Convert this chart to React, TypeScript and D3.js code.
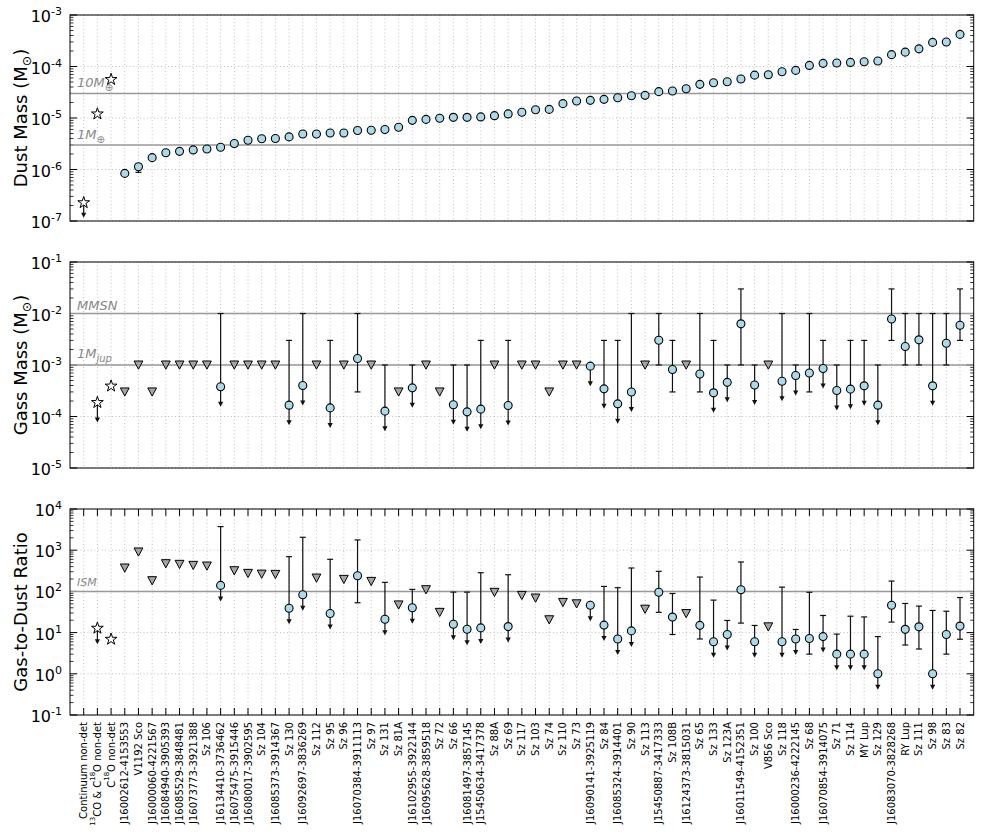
import * as d3 from "d3";

// source names, in plotting order
const sources = [
  "Continuum non-det", "13CO & C18O non-det", "C18O non-det",
  "J16002612-4153553", "V1192 Sco", "J16000060-4221567", "J16084940-3905393",
  "J16085529-3848481", "J16073773-3921388", "Sz 106", "J16134410-3736462",
  "J16075475-3915446", "J16080017-3902595", "Sz 104", "J16085373-3914367",
  "Sz 130", "J16092697-3836269", "Sz 112", "Sz 95", "Sz 96", "J16070384-3911113",
  "Sz 97", "Sz 131", "Sz 81A", "J16102955-3922144", "J16095628-3859518", "Sz 72",
  "Sz 66", "J16081497-3857145", "J15450634-3417378", "Sz 88A", "Sz 69", "Sz 117",
  "Sz 103", "Sz 74", "Sz 110", "Sz 73", "J16090141-3925119", "Sz 84",
  "J16085324-3914401", "Sz 90", "Sz 113", "J15450887-3417333", "Sz 108B",
  "J16124373-3815031", "Sz 65", "Sz 133", "Sz 123A", "J16011549-4152351", "Sz 100",
  "V856 Sco", "Sz 118", "J16000236-4222145", "Sz 68", "J16070854-3914075", "Sz 71",
  "Sz 114", "MY Lup", "Sz 129", "J16083070-3828268", "RY Lup", "Sz 111", "Sz 98",
  "Sz 83", "Sz 82",
];

// s = stacked non-detection (star), v = upper limit (triangle), o = measured
const markerKind = [
  "-", "s", "s", "v", "v", "v", "v", "v", "v", "v", "o", "v", "v", "v", "v", "o",
  "o", "v", "o", "v", "o", "v", "o", "v", "o", "v", "v", "o", "o", "o", "v", "o",
  "v", "v", "v", "v", "v", "o", "o", "o", "o", "v", "o", "o", "v", "o", "o", "o",
  "o", "o", "v", "o", "o", "o", "o", "o", "o", "o", "o", "o", "o", "o", "o", "o", "o",
];

// arrow pointing down (value is an upper limit)
const gasLimit = [
  0, 1, 0, 0, 0, 0, 0, 0, 0, 0, 1, 0, 0, 0, 0, 1, 1, 0, 1, 0, 0, 0, 1, 0, 1, 0, 0,
  1, 1, 1, 0, 1, 0, 0, 0, 0, 0, 1, 1, 1, 1, 0, 0, 0, 0, 0, 1, 1, 0, 1, 0, 1, 1, 0,
  1, 1, 1, 1, 1, 0, 0, 0, 1, 0, 0,
];

// dust mass (Msun)
const dustMass = [
  2.27e-7, 1.2e-5, 5.6e-5, 8.4e-7, 1.13e-6, 1.7e-6, 2.12e-6, 2.25e-6, 2.4e-6, 2.5e-6,
  2.7e-6, 3.2e-6, 3.7e-6, 3.95e-6, 4.0e-6, 4.3e-6, 4.9e-6, 4.9e-6, 5.1e-6, 5.1e-6,
  5.7e-6, 5.8e-6, 6.0e-6, 6.6e-6, 9.0e-6, 9.4e-6, 9.9e-6, 1.03e-5, 1.03e-5, 1.05e-5,
  1.11e-5, 1.2e-5, 1.29e-5, 1.45e-5, 1.47e-5, 1.9e-5, 2.14e-5, 2.2e-5, 2.3e-5,
  2.48e-5, 2.7e-5, 2.75e-5, 3.25e-5, 3.35e-5, 3.7e-5, 4.5e-5, 4.85e-5, 5.07e-5,
  5.7e-5, 6.8e-5, 6.9e-5, 7.9e-5, 8.4e-5, 1.05e-4, 1.15e-4, 1.17e-4, 1.2e-4,
  1.24e-4, 1.28e-4, 1.7e-4, 1.9e-4, 2.2e-4, 2.94e-4, 3.0e-4, 4.2e-4,
];
const dustErrIdx = [4, 11];
const dustErrLow = [0.88e-6, 2.8e-6];
const dustErrHigh = [1.3e-6, 3.5e-6];

// gas mass (Msun)
const gasMass = [
  null, 1.87e-4, 3.9e-4, 3e-4, 1e-3, 3e-4, 1e-3, 1e-3, 1e-3, 1e-3, 3.77e-4, 1e-3,
  1e-3, 1e-3, 1e-3, 1.66e-4, 4.0e-4, 1e-3, 1.47e-4, 1e-3, 1.34e-3, 1e-3, 1.27e-4,
  3e-4, 3.6e-4, 1e-3, 3e-4, 1.69e-4, 1.23e-4, 1.39e-4, 1e-3, 1.64e-4, 1e-3, 1e-3,
  3e-4, 1e-3, 1e-3, 9.5e-4, 3.44e-4, 1.76e-4, 3.0e-4, 1e-3, 3.03e-3, 8.2e-4, 1e-3,
  6.7e-4, 2.88e-4, 4.6e-4, 6.3e-3, 4.1e-4, 1e-3, 4.85e-4, 6.25e-4, 7.0e-4, 8.55e-4,
  3.2e-4, 3.4e-4, 3.94e-4, 1.66e-4, 7.8e-3, 2.29e-3, 3.08e-3, 3.94e-4, 2.65e-3, 5.9e-3,
];
const gasHigh = [
  null, null, null, null, null, null, null, null, null, null, 1e-2, null, null, null,
  null, 3e-3, 1e-2, null, 3e-3, null, 1e-2, null, 1e-3, null, 1e-3, null, null, 1e-3,
  1e-3, 3e-3, null, 3e-3, null, null, null, null, null, null, 3e-3, 3e-3, 1e-2, null,
  1e-2, 3e-3, null, 1e-2, 3e-3, 1e-3, 3e-2, 1e-3, null, 1e-2, 1e-3, 1e-2, 3e-3, 1e-3,
  3e-3, 3e-3, 1e-3, 3e-2, 1e-2, 1e-2, 1e-2, 1e-2, 3e-2,
];
const gasLow = [
  null, null, null, null, null, null, null, null, null, null, null, null, null, null,
  null, null, null, null, null, null, 3e-4, null, null, null, null, null, null, null,
  null, null, null, null, null, null, null, null, null, null, null, null, null, null,
  1e-3, 3e-4, null, 3e-4, null, null, 1e-3, null, null, null, null, 3e-4, null, null,
  null, null, null, 3e-3, 1e-3, 1e-3, null, 1e-3, 3e-3,
];

// gas-to-dust ratio
const ratio = [
  null, 12.8, 6.9, 370, 906, 182, 471, 454, 429, 413, 140, 318, 274, 263, 259, 39, 83,
  211, 29, 196, 240, 175, 21, 47, 40, 110, 31, 16, 12.1, 13, 95, 14, 80, 69, 20.5, 54,
  50, 46, 15.2, 7.0, 11, 37, 95, 23.8, 29, 15, 6, 9, 110, 6, 13.8, 6, 7, 7.2, 8.0, 3.0,
  3.0, 3.0, 1.0, 46, 12, 13.8, 1.0, 9, 14.4,
];
const ratioHigh = [
  null, null, null, null, null, null, null, null, null, null, 3740, null, null, null,
  null, 697, 2060, null, 601, null, 1775, null, 166, null, 112, null, null, 96, 96, 284,
  null, 254, null, null, null, null, null, null, 132, 123, 370, null, 307, 89, null,
  223, 61.5, 19.7, 517, 14.9, null, 127, 11.9, 95, 26, 9.2, 25, 24, 8.0, 178, 51, 44,
  34.5, 33, 71,
];
const ratioLow = [
  null, null, null, null, null, null, null, null, null, null, null, null, null, null,
  null, null, null, null, null, null, 53, null, null, null, null, null, null, null,
  null, null, null, null, null, null, null, null, null, null, null, null, null, null,
  31, 9, null, 7, null, null, 17, null, null, null, null, 3.0, null, null, null, null,
  null, 18, 5, 4, null, 3, 6.9,
];

const FONT = "DejaVu Sans, Liberation Sans, sans-serif";
const GRID = "#a8a8a8";
const REF = "#999999";

const x = d3.scaleLinear().domain([-1, 65]).range([70, 973.7]);

function starPath(cx: number, cy: number, R: number) {
  const r = R * 0.382;
  const pts: string[] = [];
  for (let k = 0; k < 10; k++) {
    const a = -Math.PI / 2 + (k * Math.PI) / 5;
    const rr = k % 2 === 0 ? R : r;
    pts.push(`${(cx + rr * Math.cos(a)).toFixed(2)},${(cy + rr * Math.sin(a)).toFixed(2)}`);
  }
  return "M" + pts.join("L") + "Z";
}

function Marker({ kind, cx, cy }: { kind: string; cx: number; cy: number }) {
  if (kind === "s")
    return <path d={starPath(cx, cy, 6.2)} fill="#fff" stroke="#000" strokeWidth={1} />;
  if (kind === "v")
    return (
      <path
        d={`M${cx - 4.4},${cy - 4}L${cx + 4.4},${cy - 4}L${cx},${cy + 4.2}Z`}
        fill="#a4a4a4"
        stroke="#000"
        strokeWidth={1}
      />
    );
  return <circle cx={cx} cy={cy} r={4} fill="#add8e6" stroke="#000" strokeWidth={1.1} />;
}

function Arrow({ cx, cy, len }: { cx: number; cy: number; len: number }) {
  return (
    <g>
      <line x1={cx} x2={cx} y1={cy} y2={cy + len - 4} stroke="#111" strokeWidth={1.2} />
      <path d={`M${cx - 2.6},${cy + len - 5}L${cx + 2.6},${cy + len - 5}L${cx},${cy + len}Z`} fill="#111" />
    </g>
  );
}

function ErrBar({ cx, y1, y2, capTop, capBottom }: { cx: number; y1: number; y2: number; capTop: boolean; capBottom: boolean }) {
  return (
    <g stroke="#111" strokeWidth={1.2}>
      <line x1={cx} x2={cx} y1={y1} y2={y2} />
      {capTop && <line x1={cx - 3} x2={cx + 3} y1={y1} y2={y1} />}
      {capBottom && <line x1={cx - 3} x2={cx + 3} y1={y2} y2={y2} />}
    </g>
  );
}

type Panel = { top: number; bottom: number; lo: number; hi: number; arrow: number; xticks: boolean };

function Frame({ p, y }: { p: Panel; y: d3.ScaleLogarithmic<number, number> }) {
  const [x0, x1] = x.range();
  const decades = d3.range(p.lo, p.hi + 1);
  const minors: number[] = [];
  for (let e = p.lo; e < p.hi; e++) for (let m = 2; m <= 9; m++) minors.push(m * Math.pow(10, e));
  return (
    <g>
      {sources.map((_, i) => (
        <line key={"gx" + i} x1={x(i)} x2={x(i)} y1={p.top} y2={p.bottom} stroke={GRID} strokeWidth={0.7} strokeDasharray="1,2.5" />
      ))}
      {decades.map((e) => (
        <line key={"gy" + e} x1={x0} x2={x1} y1={y(Math.pow(10, e))} y2={y(Math.pow(10, e))} stroke={GRID} strokeWidth={0.7} strokeDasharray="1,2.5" />
      ))}
      {decades.map((e) => (
        <g key={"t" + e} stroke="#000" strokeWidth={1}>
          <line x1={x0} x2={x0 + 7} y1={y(Math.pow(10, e))} y2={y(Math.pow(10, e))} />
          <line x1={x1 - 7} x2={x1} y1={y(Math.pow(10, e))} y2={y(Math.pow(10, e))} />
        </g>
      ))}
      {minors.map((v, k) => (
        <g key={"m" + k} stroke="#000" strokeWidth={0.8}>
          <line x1={x0} x2={x0 + 3.5} y1={y(v)} y2={y(v)} />
          <line x1={x1 - 3.5} x2={x1} y1={y(v)} y2={y(v)} />
        </g>
      ))}
      {p.xticks &&
        sources.map((_, i) => (
          <g key={"xt" + i} stroke="#000" strokeWidth={1}>
            <line x1={x(i)} x2={x(i)} y1={p.bottom} y2={p.bottom - 7} />
            <line x1={x(i)} x2={x(i)} y1={p.top} y2={p.top + 7} />
          </g>
        ))}
      {decades.map((e) => (
        <text key={"l" + e} x={62} y={y(Math.pow(10, e)) + 7} textAnchor="end" fontSize={16} fontFamily={FONT}>
          10
          <tspan dy={-7} fontSize={11}>
            {String(e)}
          </tspan>
        </text>
      ))}
    </g>
  );
}

export default function App() {
  const panels: Panel[] = [
    { top: 15, bottom: 221, lo: -7, hi: -3, arrow: 15, xticks: false },
    { top: 262, bottom: 468, lo: -5, hi: -1, arrow: 20, xticks: false },
    { top: 509, bottom: 715, lo: -1, hi: 4, arrow: 16, xticks: true },
  ];
  const ys = panels.map((p) =>
    d3.scaleLog().domain([Math.pow(10, p.lo), Math.pow(10, p.hi)]).range([p.bottom, p.top])
  );
  const [yD, yG, yR] = ys;
  const [x0, x1] = x.range();

  const refLines = [yD(3e-5), yD(3e-6), yG(1e-2), yG(1e-3), yR(100)];

  const limitedSeries = (
    y: d3.ScaleLogarithmic<number, number>,
    vals: (number | null)[],
    highs: (number | null)[],
    lows: (number | null)[],
    arrowLen: number,
    key: string
  ) =>
    vals.map((v, i) => {
      if (v == null) return null;
      const cx = x(i);
      const cy = y(v);
      const hi = highs[i];
      const lo = lows[i];
      return (
        <g key={key + i}>
          {hi != null && (
            <ErrBar cx={cx} y1={y(hi)} y2={lo != null ? y(lo) : cy} capTop capBottom={lo != null} />
          )}
          {gasLimit[i] === 1 && <Arrow cx={cx} cy={cy} len={arrowLen} />}
          <Marker kind={markerKind[i]} cx={cx} cy={cy} />
        </g>
      );
    });

  const yLabel = (cy: number, main: string, tail: boolean) => (
    <text transform={`translate(27,${cy}) rotate(-90)`} textAnchor="middle" fontSize={18} fontFamily={FONT}>
      {main}
      {tail && (
        <>
          <tspan dy={4} fontSize={12.5}>⊙</tspan>
          <tspan dy={-4}>)</tspan>
        </>
      )}
    </text>
  );

  return (
    <svg width={981} height={837} style={{ position: "absolute", left: 0, top: 0, background: "#fff" }}>
      <rect width={981} height={837} fill="#fff" />
      {panels.map((p, k) => (
        <Frame key={k} p={p} y={ys[k]} />
      ))}

      {refLines.map((ry, k) => (
        <line key={"ref" + k} x1={x0} x2={x1} y1={ry} y2={ry} stroke={REF} strokeWidth={1.5} />
      ))}

      <g fill="#888" fontFamily={FONT} fontStyle="italic">
        <text x={77} y={yD(3e-5) - 6} fontSize={13}>
          10M<tspan dy={4} fontSize={10} fontStyle="normal">⊕</tspan>
        </text>
        <text x={77} y={yD(3e-6) - 6} fontSize={13}>
          1M<tspan dy={4} fontSize={10} fontStyle="normal">⊕</tspan>
        </text>
        <text x={77} y={yG(1e-2) - 4} fontSize={13}>MMSN</text>
        <text x={77} y={yG(1e-3) - 7} fontSize={13}>
          1M<tspan dy={4} fontSize={10}>jup</tspan>
        </text>
        <text x={77} y={yR(100) - 5} fontSize={11}>ISM</text>
      </g>

      {/* dust mass */}
      {dustErrIdx.map((i, k) => (
        <ErrBar key={"de" + i} cx={x(i)} y1={yD(dustErrHigh[k])} y2={yD(dustErrLow[k])} capTop capBottom />
      ))}
      <Arrow cx={x(0)} cy={yD(dustMass[0])} len={panels[0].arrow} />
      {dustMass.map((v, i) => (
        <Marker key={"d" + i} kind={i < 3 ? "s" : "o"} cx={x(i)} cy={yD(v)} />
      ))}

      {/* gas mass */}
      {limitedSeries(yG, gasMass, gasHigh, gasLow, panels[1].arrow, "g")}

      {/* gas-to-dust ratio */}
      {limitedSeries(yR, ratio, ratioHigh, ratioLow, panels[2].arrow, "r")}

      {panels.map((p, k) => (
        <rect key={"fr" + k} x={x0} y={p.top} width={x1 - x0} height={p.bottom - p.top} fill="none" stroke="#000" strokeWidth={1} />
      ))}

      {yLabel(118, "Dust Mass (M", true)}
      {yLabel(365, "Gass Mass (M", true)}
      {yLabel(612, "Gas-to-Dust Ratio", false)}

      <g fontFamily={FONT} fontSize={10}>
        {sources.map((s, i) => (
          <text key={"xl" + i} transform={`translate(${x(i)},722) rotate(-90)`} textAnchor="end" dominantBaseline="central">
            {i === 1 ? (
              <>
                <tspan dy={-4} fontSize={7}>13</tspan>
                <tspan dy={4}>CO &amp; C</tspan>
                <tspan dy={-4} fontSize={7}>18</tspan>
                <tspan dy={4}>O non-det</tspan>
              </>
            ) : i === 2 ? (
              <>
                C<tspan dy={-4} fontSize={7}>18</tspan>
                <tspan dy={4}>O non-det</tspan>
              </>
            ) : (
              s
            )}
          </text>
        ))}
      </g>
    </svg>
  );
}
